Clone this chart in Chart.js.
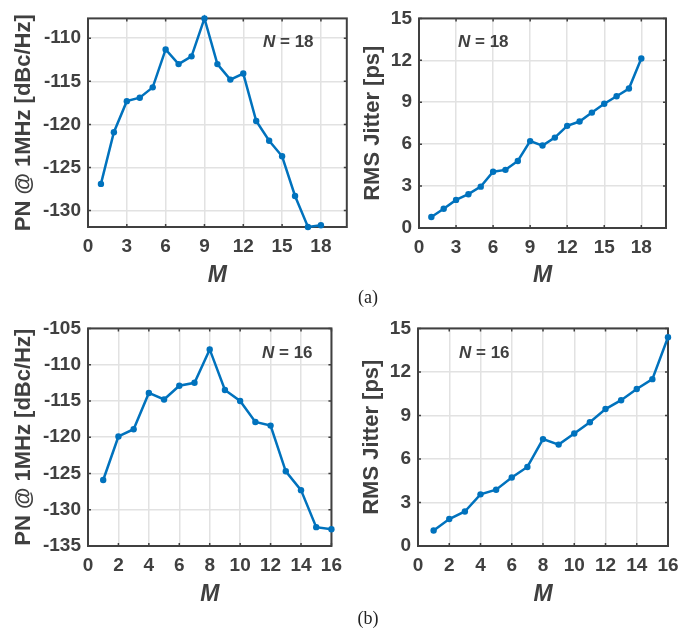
<!DOCTYPE html>
<html>
<head>
<meta charset="utf-8">
<script src="https://cdn.jsdelivr.net/npm/chart.js@4.4.1/dist/chart.umd.min.js"></script>
<style>
  html, body { margin: 0; padding: 0; background: #fff; }
  body { width: 699px; height: 633px; position: relative; overflow: hidden; }
  canvas { position: absolute; }
  .cap { position: absolute; font-family: 'Liberation Serif', 'Times New Roman', serif; font-size: 18px; color: #222; transform: translate(-50%, -50%); }
</style>
</head>
<body>
<canvas id="pnA" width="350" height="290" style="left:0;top:0"></canvas>
<canvas id="jitA" width="349" height="290" style="left:350px;top:0"></canvas>
<canvas id="pnB" width="350" height="299" style="left:0;top:310px"></canvas>
<canvas id="jitB" width="349" height="299" style="left:350px;top:310px"></canvas>
<div class="cap" style="left:368px;top:297px">(a)</div>
<div class="cap" style="left:368px;top:618px">(b)</div>
<script>
// ---- data ----
// (a) N = 18
const mA = [1, 2, 3, 4, 5, 6, 7, 8, 9, 10, 11, 12, 13, 14, 15, 16, 17, 18];
const pnA = [-126.9, -120.9, -117.3, -116.9, -115.7, -111.3, -113.0, -112.1, -107.7,
             -113.0, -114.8, -114.1, -119.6, -121.9, -123.7, -128.3, -131.9, -131.7];
const jitterA = [0.79, 1.38, 2.01, 2.42, 2.96, 4.03, 4.16, 4.80, 6.22,
                 5.90, 6.47, 7.31, 7.62, 8.26, 8.89, 9.43, 9.98, 12.13];

// (b) N = 16
const mB = [1, 2, 3, 4, 5, 6, 7, 8, 9, 10, 11, 12, 13, 14, 15, 16];
const pnB = [-125.9, -119.9, -118.9, -113.9, -114.8, -112.9, -112.5, -107.9,
             -113.5, -115.0, -117.9, -118.4, -124.7, -127.3, -132.4, -132.7];
const jitterB = [1.07, 1.86, 2.38, 3.56, 3.88, 4.72, 5.45, 7.37,
                 6.99, 7.76, 8.53, 9.44, 10.05, 10.82, 11.50, 14.39];

// ---- tick labels ----
const xTicksA = [0, 3, 6, 9, 12, 15, 18];
const xTicksB = [0, 2, 4, 6, 8, 10, 12, 14, 16];
const pnTicksA = [-130, -125, -120, -115, -110];
const pnTicksB = [-135, -130, -125, -120, -115, -110, -105];
const jitterTicks = [0, 3, 6, 9, 12, 15];

const ink = '#404040';
const blue = '#0072BD';
const gridCol = '#e2e2e2';
const fam = "'Liberation Sans', Arial, sans-serif";

// frame, inner tick marks and the "N = .." note
const framePlugin = {
    id: 'frame',
    beforeDatasetsDraw(chart, args, o) {
        const { ctx, chartArea: a, scales: { x, y } } = chart;
        ctx.save();
        ctx.strokeStyle = ink;
        ctx.lineWidth = 1.5;
        ctx.beginPath();
        x.ticks.forEach(t => {
            const px = x.getPixelForValue(t.value);
            ctx.moveTo(px, a.bottom); ctx.lineTo(px, a.bottom - 3);
            ctx.moveTo(px, a.top); ctx.lineTo(px, a.top + 3);
        });
        y.ticks.forEach(t => {
            const py = y.getPixelForValue(t.value);
            ctx.moveTo(a.left, py); ctx.lineTo(a.left + 3, py);
            ctx.moveTo(a.right, py); ctx.lineTo(a.right - 3, py);
        });
        ctx.stroke();
        ctx.lineWidth = 2;
        ctx.strokeRect(a.left, a.top, a.right - a.left, a.bottom - a.top);
        ctx.restore();
    },
    afterDatasetsDraw(chart, args, o) {
        const ctx = chart.ctx;
        ctx.save();
        ctx.fillStyle = ink;
        ctx.textBaseline = 'alphabetic';
        ctx.font = `italic bold 17px ${fam}`;
        ctx.fillText('N', o.nx, o.ny);
        const w = ctx.measureText('N').width;
        ctx.font = `bold 17px ${fam}`;
        ctx.fillText(' = ' + o.n, o.nx + w, o.ny);
        ctx.restore();
    }
};

function makePanel(id, p) {
    const pts = p.xs.map((x, i) => ({ x, y: p.ys[i] }));
    return new Chart(document.getElementById(id), {
        type: 'line',
        data: {
            datasets: [{
                data: pts,
                borderColor: blue,
                backgroundColor: blue,
                borderWidth: 2.5,
                pointRadius: 3.2,
                pointHoverRadius: 3.2,
                pointBorderWidth: 0,
                tension: 0,
                clip: false
            }]
        },
        options: {
            responsive: false,
            animation: false,
            events: [],
            layout: { padding: p.pad },
            plugins: {
                legend: { display: false },
                tooltip: { enabled: false },
                frame: { n: p.n, nx: p.nx, ny: p.ny }
            },
            scales: {
                x: {
                    type: 'linear',
                    min: p.xMin, max: p.xMax,
                    afterBuildTicks: s => { s.ticks = p.xTicks.map(v => ({ value: v })); },
                    afterFit: s => { s.height = p.xh; },
                    grid: { color: gridCol, lineWidth: 1.5, drawTicks: false },
                    border: { display: false },
                    ticks: { color: ink, font: { family: fam, size: 19, weight: 'bold' }, padding: 8, maxRotation: 0, autoSkip: false },
                    title: { display: true, text: 'M', color: ink, font: { family: fam, size: 23, weight: 'bold', style: 'italic' }, padding: { top: 0, bottom: 1 } }
                },
                y: {
                    type: 'linear',
                    min: p.yMin, max: p.yMax,
                    afterBuildTicks: s => { s.ticks = p.yTicks.map(v => ({ value: v })); },
                    afterFit: s => { s.width = p.yw; },
                    grid: { color: gridCol, lineWidth: 1.5, drawTicks: false },
                    border: { display: false },
                    ticks: { color: ink, font: { family: fam, size: 19, weight: 'bold' }, padding: 7, autoSkip: false },
                    title: { display: true, text: p.yTitle, color: ink, font: { family: fam, size: 22, weight: 'bold' }, padding: { top: p.tp, bottom: 0 } }
                }
            }
        },
        plugins: [framePlugin]
    });
}

makePanel('pnA', {
    xs: mA, ys: pnA, xTicks: xTicksA, xMin: 0, xMax: 20,
    yTicks: pnTicksA, yMin: Math.min(...pnA), yMax: Math.max(...pnA),
    yTitle: 'PN @ 1MHz [dBc/Hz]', pad: { top: 6, right: 1, left: 0, bottom: 0 },
    yw: 88, xh: 63, tp: 11, n: '18', nx: 263, ny: 47
});
makePanel('jitA', {
    xs: mA, ys: jitterA, xTicks: xTicksA, xMin: 0, xMax: 20,
    yTicks: jitterTicks, yMin: 0, yMax: 15,
    yTitle: 'RMS Jitter [ps]', pad: { top: 7, right: 33, left: 0, bottom: 0 },
    yw: 69, xh: 62, tp: 9.5, n: '18', nx: 108, ny: 47
});
makePanel('pnB', {
    xs: mB, ys: pnB, xTicks: xTicksB, xMin: 0, xMax: 16,
    yTicks: pnTicksB, yMin: -135, yMax: -105,
    yTitle: 'PN @ 1MHz [dBc/Hz]', pad: { top: 16, right: 1, left: 0, bottom: 0 },
    yw: 88, xh: 63, tp: 10.5, n: '16', nx: 262, ny: 48
});
makePanel('jitB', {
    xs: mB, ys: jitterB, xTicks: xTicksB, xMin: 0, xMax: 16,
    yTicks: jitterTicks, yMin: 0, yMax: 15,
    yTitle: 'RMS Jitter [ps]', pad: { top: 16, right: 31, left: 0, bottom: 0 },
    yw: 68, xh: 63, tp: 9, n: '16', nx: 109, ny: 48
});
</script>
</body>
</html>
